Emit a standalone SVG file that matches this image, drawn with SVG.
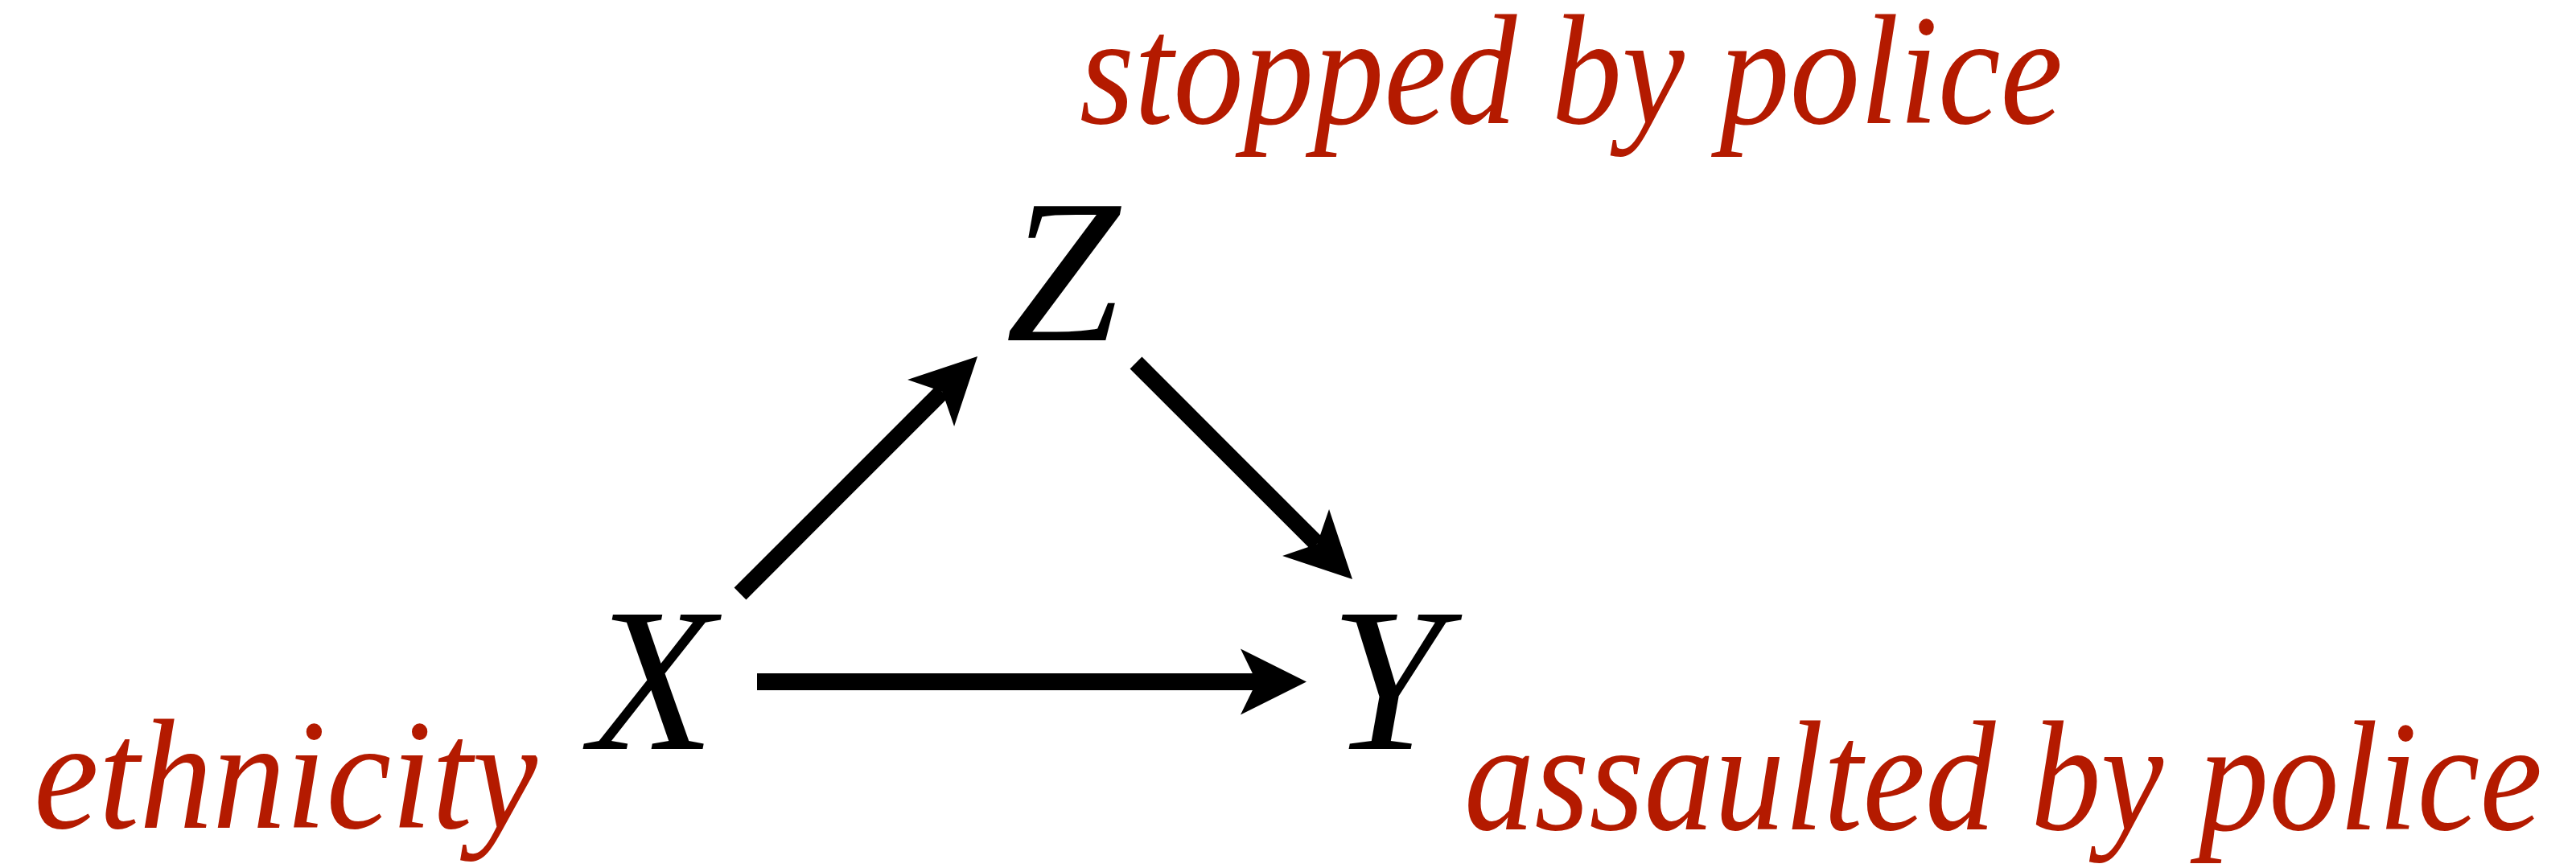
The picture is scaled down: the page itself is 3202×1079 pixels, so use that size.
<svg xmlns="http://www.w3.org/2000/svg" width="3202" height="1079" viewBox="0 0 3202 1079">
<style>
.var{font-family:"Liberation Serif","Times New Roman",serif;font-style:italic;font-size:255px;fill:#000}
.lab{font-family:"Liberation Serif","Times New Roman",serif;font-style:italic;font-size:195px;fill:#b41a00}
.edge{fill:none;stroke:#000;stroke-width:21;stroke-linecap:butt}
</style>
<defs>
<marker id="head" markerUnits="userSpaceOnUse" orient="auto" refX="0" refY="0" markerWidth="100" markerHeight="100" overflow="visible">
<path d="M62,0 L-20,-41 L0,0 L-20,41 Z" fill="#000"/>
</marker>
</defs>
<rect width="3202" height="1079" fill="#fff"/>
<g id="connectors">
<path id="e-xz" class="edge" d="M920,738 L1171.2,486.8" marker-end="url(#head)"/>
<path id="e-zy" class="edge" d="M1412,451 L1637.2,676.2" marker-end="url(#head)"/>
<path id="e-xy" class="edge" d="M941,847.5 L1562,847.5" marker-end="url(#head)"/>
</g>
<g id="node-z"><text class="var" x="1250" y="423">Z</text></g>
<g id="node-x"><text class="var" x="733" y="931">X</text></g>
<g id="node-y"><text class="var" x="1653" y="931">Y</text></g>
<g id="label-z"><text class="lab" x="1342" y="153" textLength="1222" lengthAdjust="spacingAndGlyphs">stopped by police</text></g>
<g id="label-x"><text class="lab" x="42" y="1029" textLength="626" lengthAdjust="spacingAndGlyphs">ethnicity</text></g>
<g id="label-y"><text class="lab" x="1820" y="1031" textLength="1340" lengthAdjust="spacingAndGlyphs">assaulted by police</text></g>
</svg>
